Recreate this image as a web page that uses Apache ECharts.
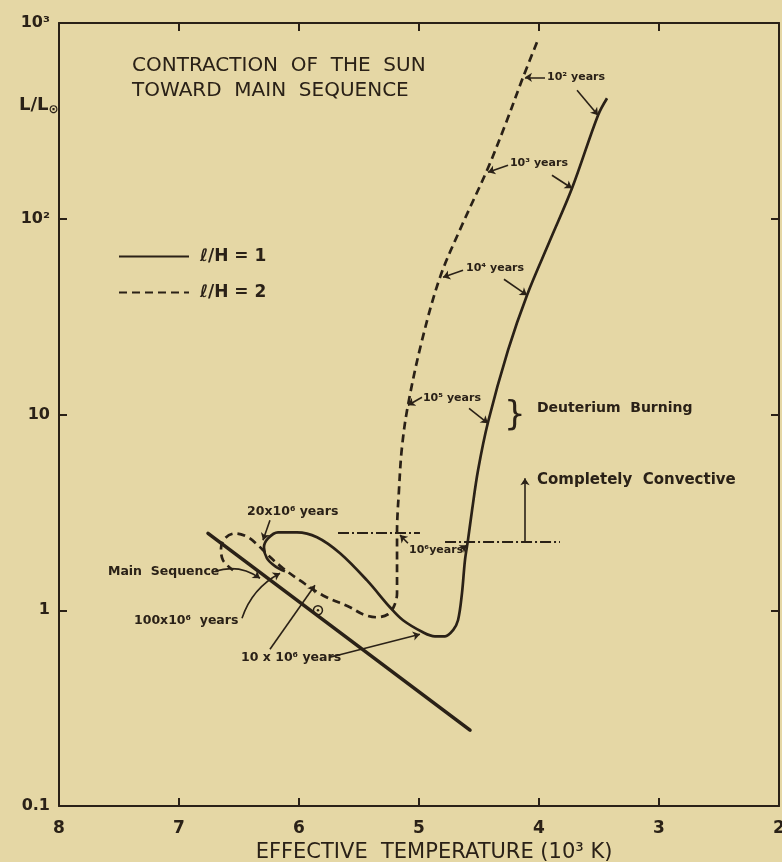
<!DOCTYPE html>
<html>
<head>
<meta charset="utf-8">
<script src="https://cdn.jsdelivr.net/npm/echarts@6/dist/echarts.min.js"></script>
<style>
  html, body { margin: 0; padding: 0; background: #e5d7a5; }
  #chart { width: 782px; height: 862px; }
</style>
</head>
<body>
<div id="chart"></div>
<script>
// ---------- DATA (T in 10^3 K, L in L_sun) ----------
const solidT = [3.433, 3.508, 3.725, 3.908, 4.10, 4.258, 4.425, 4.508, 4.558, 4.592, 4.617, 4.642, 4.675, 4.717, 4.783, 4.867, 4.967, 5.133, 5.242, 5.433, 5.658, 5.85, 6.017, 6.175, 6.258, 6.292, 6.267, 6.20, 6.117];
const solidL = [413, 338, 143, 77.6, 40.7, 21.3, 9.13, 5.19, 3.24, 2.28, 1.80, 1.22, 0.889, 0.79, 0.736, 0.736, 0.772, 0.889, 1.036, 1.42, 1.955, 2.36, 2.50, 2.50, 2.33, 2.10, 1.84, 1.68, 1.58];

const dashedT = [4.017, 4.133, 4.283, 4.433, 4.642, 4.825, 4.975, 5.092, 5.142, 5.167, 5.183, 5.183, 5.208, 5.258, 5.35, 5.467, 5.575, 5.80, 5.992, 6.133, 6.258, 6.342, 6.425, 6.533, 6.617, 6.65, 6.633, 6.55];
const dashedL = [797, 528, 300, 177, 92.6, 50.2, 23.9, 11.15, 6.8, 4.10, 2.50, 1.22, 1.05, 0.954, 0.921, 0.954, 1.036, 1.19, 1.42, 1.64, 1.91, 2.15, 2.36, 2.47, 2.33, 2.07, 1.80, 1.60];

const mainSeqT = [6.758, 4.575];
const mainSeqL = [2.47, 0.244];

// Completely convective boundary (dash-dot segments): [T1, T2, L]
const convective = [[5.675, 4.992, 2.50], [4.783, 3.825, 2.25]];

const sunPoint = [5.842, 1.0];

// Annotation arrows: [T_from, L_from, T_to, L_to, curveness]
const arrows = [
  [3.95, 528, 4.117, 528, 0],
  [3.683, 453, 3.508, 338, 0],
  [4.258, 187.6, 4.425, 172.8, 0],
  [3.892, 166.8, 3.725, 143.2, 0],
  [4.633, 54.6, 4.80, 50.2, 0],
  [4.292, 49.1, 4.10, 40.7, 0],
  [4.975, 12.25, 5.092, 11.15, 0],
  [4.583, 10.76, 4.425, 9.02, 0],
  [5.092, 2.20, 5.158, 2.42, 0],
  [4.658, 2.03, 4.60, 2.15, 0],
  [6.242, 2.88, 6.30, 2.28, 0],
  [6.70, 1.58, 6.325, 1.457, 0.25],
  [6.475, 0.910, 6.158, 1.546, 0.2],
  [6.242, 0.632, 5.867, 1.342, 0],
  [5.742, 0.575, 4.992, 0.754, 0],
  [4.117, 2.25, 4.117, 4.72, 0]
];

// Text annotations: [T, L, text]
const ageLabelsTop = [
  [3.933, 528, '10² years'],
  [4.242, 192, '10³ years'],
  [4.608, 55.9, '10⁴ years'],
  [4.967, 12.1, '10⁵ years'],
  [5.083, 2.03, '10⁶years']
];
const ageLabelsLow = [
  [6.433, 3.17, '20x10⁶ years'],
  [7.592, 1.58, 'Main  Sequence'],
  [7.375, 0.889, '100x10⁶  years'],
  [6.483, 0.569, '10 x 10⁶ years']
];
const regionLabels = [
  [4.017, 10.76, 'Deuterium  Burning'],
  [4.017, 4.61, 'Completely  Convective']
];
const braceLabel = [[4.292, 9.80, '}']];

const xTicks = [2, 3, 4, 5, 6, 7, 8];
const yTickText = { 1000: '10³', 100: '10²', 10: '10', 1: '1', 0.1: '0.1' };

const seriesNames = ['ℓ/H = 1', 'ℓ/H = 2'];
const titleLines = ['CONTRACTION  OF  THE  SUN', 'TOWARD  MAIN  SEQUENCE'];
const xAxisTitle = 'EFFECTIVE  TEMPERATURE (10³ K)';

// ---------- STYLE ----------
const ink = '#2a2117';
const bg = '#e5d7a5';
const font = 'DejaVu Sans';

const zip = (a, b) => a.map((v, i) => [v, b[i]]);

const chart = echarts.init(document.getElementById('chart'), null, { renderer: 'canvas' });

const axisCommon = {
  type: 'value', min: 2, max: 8, interval: 1, inverse: true,
  axisLine: { show: true, onZero: false, lineStyle: { color: ink, width: 2 } },
  axisTick: { show: true, inside: true, length: 8, lineStyle: { color: ink, width: 2 } },
  splitLine: { show: false }
};
const yCommon = {
  type: 'log', logBase: 10, min: 0.1, max: 1000,
  axisLine: { show: true, lineStyle: { color: ink, width: 2 } },
  axisTick: { show: true, inside: true, length: 8, lineStyle: { color: ink, width: 2 } },
  splitLine: { show: false },
  minorTick: { show: false }
};

const labelSeries = (data, size, weight) => ({
  type: 'scatter', symbolSize: 0, silent: true,
  itemStyle: { opacity: 1 },
  data: data.map(d => ({ value: [d[0], d[1]], name: d[2] })),
  label: {
    show: true, position: 'right', distance: 0,
    formatter: p => p.name,
    color: ink, fontFamily: font, fontSize: size, fontWeight: weight
  },
  z: 10
});

const option = {
  backgroundColor: bg,
  animation: false,
  title: {
    text: titleLines.join('\n'),
    left: 132, top: 53, padding: 0,
    textStyle: { color: ink, fontFamily: font, fontSize: 20, fontWeight: 'normal', lineHeight: 25 }
  },
  legend: {
    data: seriesNames,
    orient: 'vertical', left: 118, top: 248, padding: 0,
    itemWidth: 70, itemHeight: 14, itemGap: 19,
    itemStyle: { opacity: 0, color: 'rgba(0,0,0,0)', borderWidth: 0 },
    textStyle: { color: ink, fontFamily: font, fontSize: 17, fontWeight: 'bold', padding: [0, 0, 0, 6] },
    selectedMode: false
  },
  grid: { left: 59, right: 3, top: 23, bottom: 56, containLabel: false, outerBoundsMode: 'none' },
  xAxis: [
    Object.assign({}, axisCommon, {
      position: 'bottom',
      axisLabel: { color: ink, fontFamily: font, fontSize: 17, fontWeight: 'bold', margin: 14,
        formatter: v => xTicks.includes(v) ? String(v) : '' },
      name: xAxisTitle, nameLocation: 'middle', nameGap: 33,
      nameTextStyle: { color: ink, fontFamily: font, fontSize: 21, fontWeight: 'normal', padding: [0, 0, 0, 30] }
    }),
    Object.assign({}, axisCommon, { position: 'top', axisLabel: { show: false } })
  ],
  yAxis: [
    Object.assign({}, yCommon, {
      position: 'left',
      axisLabel: { color: ink, fontFamily: font, fontSize: 16, fontWeight: 'bold', margin: 9,
        formatter: v => yTickText[+v.toPrecision(3)] || '' }
    }),
    Object.assign({}, yCommon, { position: 'right', axisLabel: { show: false } })
  ],
  graphic: [{
    type: 'text', left: 19, top: 96,
    style: {
      text: '{a|L/L}{b|⊙}',
      rich: {
        a: { fontFamily: font, fontSize: 18, fontWeight: 'bold', fill: ink, color: ink },
        b: { fontFamily: font, fontSize: 12, fontWeight: 'bold', fill: ink, color: ink, padding: [10, 0, 0, 0] }
      }
    }
  }],
  series: [
    {
      name: seriesNames[0], type: 'line', data: zip(solidT, solidL),
      symbol: 'none', smooth: 0.35, silent: true,
      lineStyle: { color: ink, width: 2.7 }, itemStyle: { color: ink }
    },
    {
      name: seriesNames[1], type: 'line', data: zip(dashedT, dashedL),
      symbol: 'none', smooth: 0.35, silent: true,
      lineStyle: { color: ink, width: 2.7, type: [8, 5] }, itemStyle: { color: ink }
    },
    {
      name: 'Main Sequence', type: 'line', data: zip(mainSeqT, mainSeqL),
      symbol: 'none', silent: true,
      lineStyle: { color: ink, width: 3.6, cap: 'round' }
    },
    {
      name: 'convective', type: 'lines', coordinateSystem: 'cartesian2d', silent: true,
      data: convective.map(c => ({ coords: [[c[0], c[2]], [c[1], c[2]]] })),
      lineStyle: { color: ink, width: 2, type: [11, 3, 2, 3], opacity: 1 }
    },
    {
      name: 'arrows', type: 'lines', coordinateSystem: 'cartesian2d', silent: true,
      symbol: ['none', 'arrow'], symbolSize: 7,
      data: arrows.map(a => ({ coords: [[a[0], a[1]], [a[2], a[3]]], lineStyle: { curveness: a[4] } })),
      lineStyle: { color: ink, width: 1.6, opacity: 1 }
    },
    {
      name: 'sun', type: 'scatter', silent: true, data: [sunPoint],
      symbol: 'circle', symbolSize: 9,
      itemStyle: { color: 'rgba(0,0,0,0)', borderColor: ink, borderWidth: 1.5, opacity: 1 }
    },
    {
      name: 'sunDot', type: 'scatter', silent: true, data: [sunPoint],
      symbol: 'circle', symbolSize: 2.5, itemStyle: { color: ink, opacity: 1 }
    },
    labelSeries(ageLabelsTop, 11, 'bold'),
    labelSeries(ageLabelsLow, 12.5, 'bold'),
    labelSeries([regionLabels[0]], 14, 'bold'),
    labelSeries([regionLabels[1]], 15, 'bold'),
    labelSeries(braceLabel, 34, 'normal')
  ]
};

chart.setOption(option);
</script>
</body>
</html>
